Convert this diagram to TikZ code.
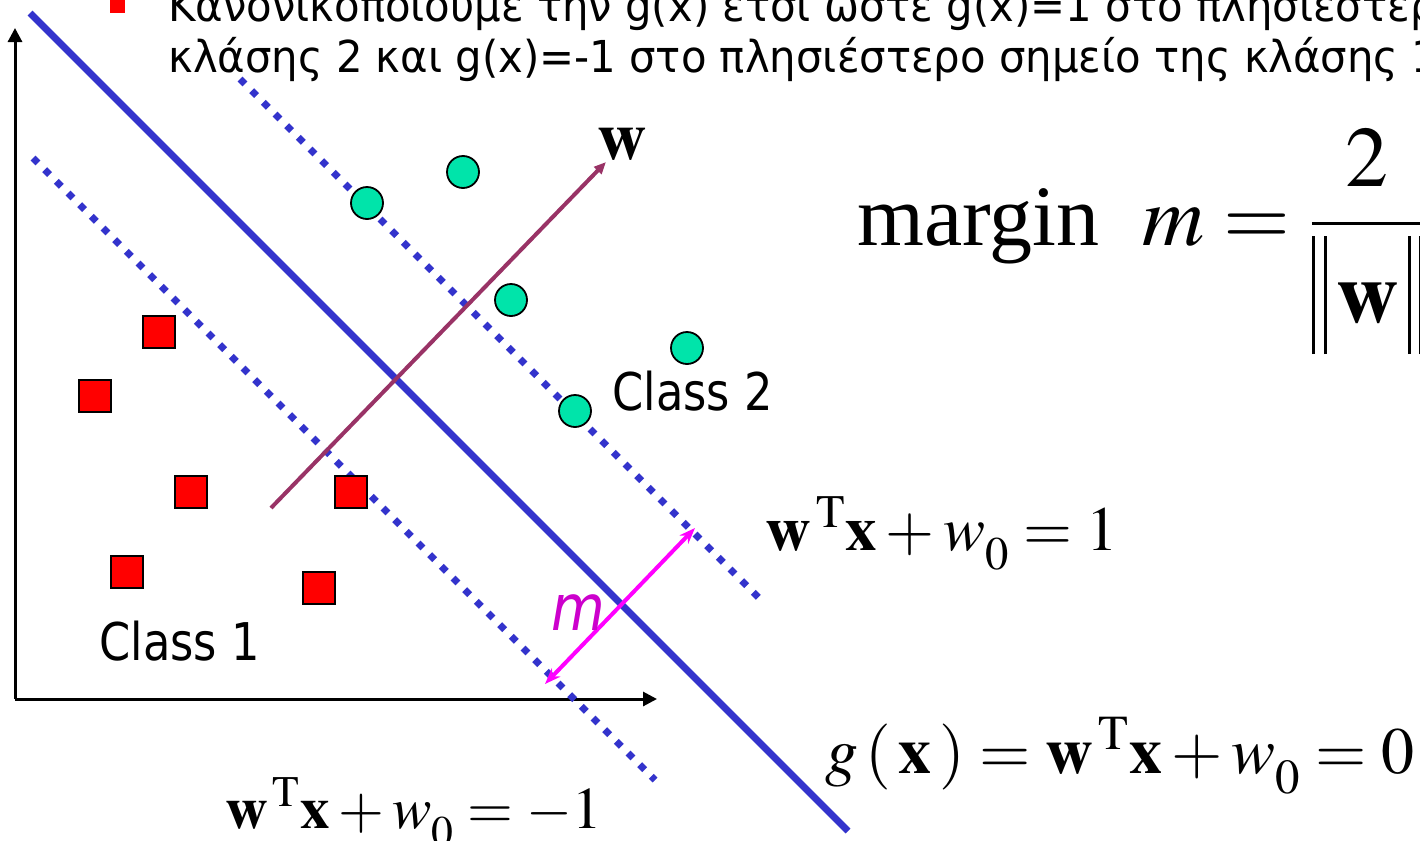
\documentclass[tikz,border=0pt]{standalone}
\usepackage{amsmath}
\usepackage{mathptmx}
\usepackage{fontspec}
\setmainfont{Liberation Serif}
\newfontfamily\tahoma[FakeStretch=0.86]{DejaVu Sans}
\newfontfamily\titlefont[FakeStretch=0.95]{DejaVu Sans}
\usepackage{xcolor}
\usetikzlibrary{arrows.meta}
\definecolor{hypblue}{RGB}{51,51,204}
\definecolor{ptgreen}{RGB}{0,228,170}
\definecolor{wpurple}{RGB}{153,51,102}
\definecolor{marrow}{RGB}{255,0,255}
\definecolor{mlabel}{RGB}{204,0,204}
\newcommand\normbar{\rule[-0.37em]{0.035em}{1.38em}}
\newcommand\wnull{w_{\raisebox{-0.16em}{$\scriptstyle 0$}}}

\begin{document}
\begin{tikzpicture}[x=0.5pt,y=0.5pt,yscale=-1,xscale=1,
    axis/.style={line width=1.5pt,-{Triangle[length=7pt,width=7pt]}},
    hyper/.style={draw=hypblue,line width=3.5pt},
    margline/.style={hyper,dash pattern=on 3.5pt off 4.75pt},
    classtwo/.style={circle,draw,line width=0.9pt,fill=ptgreen,minimum size=16pt,inner sep=0pt},
    classone/.style={rectangle,draw,line width=0.9pt,fill=red,minimum size=16pt,inner sep=0pt},
    sanslabel/.style={anchor=base west,inner sep=0pt,font=\tahoma\fontsize{26}{31}\selectfont},
    titleline/.style={anchor=base west,inner sep=0pt,font=\titlefont\fontsize{22}{26}\selectfont},
    eqlabel/.style={anchor=base west,inner sep=0pt,font=\fontsize{31.5}{38}\selectfont}]
\useasboundingbox (0,0) rectangle (1420,841);
\clip (0,0) rectangle (1420,841);

% Text Node
\node[fill=red,minimum size=7.5pt,inner sep=0pt] (bul) at (117,5) {};
\node[titleline] (lineone) at (168,21) {Κανονικοποιούμε την g(x) έτσι ώστε g(x)=1 στο πλησιέστερο σημείο της};
\node[titleline] (linetwo) at (168,72) {κλάσης 2 και g(x)=-1 στο πλησιέστερο σημείο της κλάσης 1};

%Straight Lines
\coordinate (O) at (15,699);
\coordinate (ytip) at (15,28);
\coordinate (xtip) at (657,699);
\draw[axis] (O) -- (ytip);
\draw[axis] (O) -- (xtip);

%Straight Lines
\coordinate (hs) at (30,13);
\coordinate (he) at (848,831);
\coordinate (us) at (240,79);
\coordinate (ue) at (765,604);
\coordinate (ls) at (33,158);
\coordinate (le) at (655,780);
\draw[hyper] (hs) -- (he);
\draw[margline] (us) -- (ue);
\draw[margline] (ls) -- (le);

%Straight Lines
\coordinate (wtail) at (271,508);
\coordinate (whead) at (606,162);
\draw[wpurple,line width=2pt,-{Triangle[length=6pt,width=5pt]}] (wtail) -- (whead);
\coordinate (mlo) at (545,684);
\coordinate (mhi) at (695,528);
\draw[marrow,line width=2pt,{Stealth[length=8pt,width=6pt]}-{Stealth[length=8pt,width=6pt]}] (mlo) -- (mhi);

% class 1
\node[classone] (sa) at (159,332) {};
\node[classone] (sb) at (95,396) {};
\node[classone] (sc) at (191,492) {};
\node[classone] (sd) at (351,492) {};
\node[classone] (se) at (127,572) {};
\node[classone] (sf) at (319,588) {};
% class 2
\node[classtwo] (ca) at (367,203) {};
\node[classtwo] (cb) at (463,172) {};
\node[classtwo] (cc) at (511,300) {};
\node[classtwo] (cd) at (687,348) {};
\node[classtwo] (ce) at (575,411) {};

% Text Node
\node[sanslabel] (cltwo) at (612,410) {Class 2};
\node[sanslabel] (clone) at (99,660) {Class 1};
\node[sanslabel,font=\tahoma\itshape\fontsize{32}{38}\selectfont,text=mlabel] (mlab) at (551,630) {m};
\node[eqlabel,font=\fontsize{34}{40}\selectfont] (wlab) at (597,159) {$\mathbf{w}$};
\node[eqlabel,font=\fontsize{43}{50}\selectfont] (mrg) at (857,245) {margin\enspace$m=\dfrac{2}{\normbar\hspace{0.1em}\normbar\,\mathbf{w}\,\normbar\hspace{0.1em}\normbar}$};
\node[eqlabel] (eqpos) at (765,550) {$\mathbf{w}^{\,\mathrm{T}}\mathbf{x}+\wnull=1$};
\node[eqlabel,font=\fontsize{33}{40}\selectfont] (eqzero) at (825,773) {$g\,(\,\mathbf{x}\,)=\mathbf{w}^{\,\mathrm{T}}\mathbf{x}+\wnull=0$};
\node[eqlabel,font=\fontsize{29.5}{35}\selectfont] (eqneg) at (225,828) {$\mathbf{w}^{\,\mathrm{T}}\mathbf{x}+\wnull=-1$};
\end{tikzpicture}
\end{document}
